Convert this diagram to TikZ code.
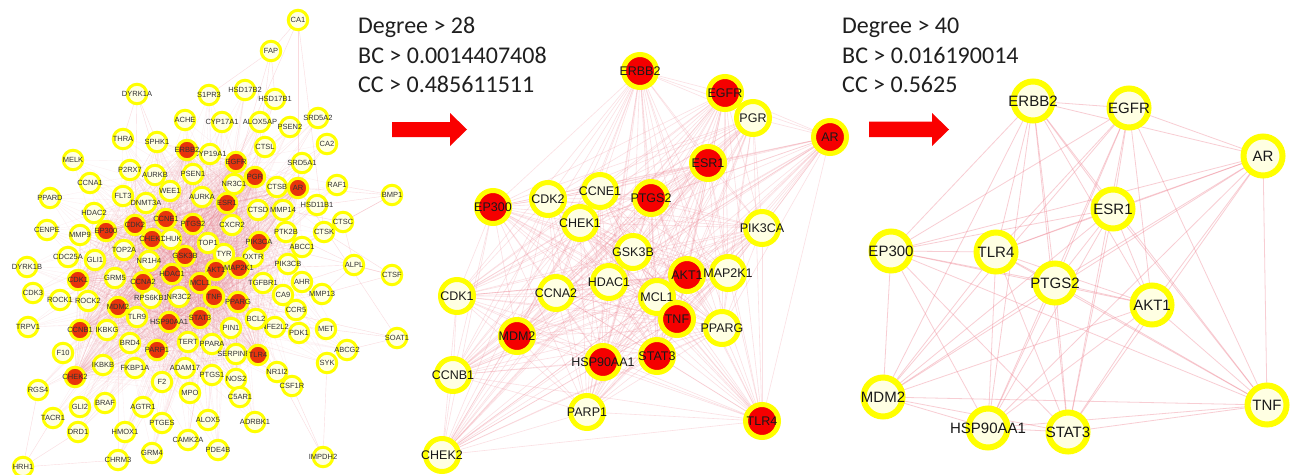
\documentclass[tikz,border=0pt]{standalone}
\usepackage{fontspec}
\setmainfont{Liberation Sans}
\newfontfamily\hdrfont{Carlito}
\usetikzlibrary{backgrounds}
\definecolor{ring}{RGB}{255,255,0}
\definecolor{cream}{RGB}{255,255,226}
\definecolor{lred}{RGB}{232,52,12}
\definecolor{mred}{RGB}{245,0,0}
\definecolor{edgepink}{RGB}{238,125,140}
\definecolor{arrowred}{RGB}{250,0,0}
\def\Lhubs{ERBB2,EGFR,PGR,AR,ESR1,EP300,CDK2,CCNE1,PTGS2,CHEK1,PIK3CA,GSK3B,HDAC1,AKT1,MAP2K1,MCL1,CDK1,CCNA2,TNF,PPARG,MDM2,HSP90AA1,STAT3,CCNB1,PARP1,TLR4,CHEK2}
\def\Linner{SPHK1,CYP19A1,P2RX7,AURKB,PSEN1,NR3C1,CTSB,FLT3,WEE1,AURKA,DNMT3A,CTSD,MMP14,HDAC2,CXCR2,MMP9,PTK2B,CHUK,TOP1,ABCC1,TOP2A,TYR,OXTR,GLI1,NR1H4,PIK3CB,GRM5,TGFBR1,CA9,RPS6KB1,NR3C2,ROCK2,TLR9,BCL2,NFE2L2,PIN1,IKBKG,BRD4,TERT,PPARA,SERPINE1,IKBKB,FKBP1A,ADAM17,PTGS1,NOS2,F2,MPO}
\def\Louter{S1PR3,HSD17B2,HSD17B1,ACHE,CYP17A1,ALOX5AP,PSEN2,SRD5A2,THRA,CA2,CTSL,MELK,SRD5A1,RAF1,CCNA1,PPARD,HSD11B1,CENPE,CTSK,CDC25A,DYRK1B,CDK3,MMP13,ROCK1,TRPV1,MET,ABCG2,F10,SYK,NR1I2,CSF1R,RGS4,C5AR1,GLI2,TACR1,ALOX5,ADRBK1,PTGES,DRD1,HMOX1,CAMK2A,PDE4B,GRM4,CHRM3,BRAF,AGTR1,PDK1,CCR5,AHR}
\def\Lmain{AKT1,TNF,EGFR,ESR1,PTGS2,STAT3,HSP90AA1,MDM2}
\def\Mlist{ERBB2,EGFR,PGR,AR,ESR1,EP300,CDK2,CCNE1,PTGS2,CHEK1,PIK3CA,GSK3B,HDAC1,AKT1,MAP2K1,MCL1,CDK1,CCNA2,TNF,PPARG,MDM2,HSP90AA1,STAT3,CCNB1,PARP1,TLR4,CHEK2}
\def\Rlist{ERBB2,EGFR,AR,ESR1,EP300,TLR4,PTGS2,AKT1,MDM2,HSP90AA1,STAT3,TNF}
\newcommand\Lnode[2]{\node[lnode={#1}] (L-#1) at (#2) {};}
\newcommand\Lhub[2]{\node[lnode={#1},fill=lred] (L-#1) at (#2) {};}
\newcommand\Mnode[2]{\node[mnode={#1}] (M-#1) at (#2) {};}
\newcommand\Mhub[2]{\node[mnode={#1},fill=mred] (M-#1) at (#2) {};}
\newcommand\Rnode[2]{\node[rnode={#1}] (R-#1) at (#2) {};}
\begin{document}
\begin{tikzpicture}[x=1pt,y=-1pt,
  lnode/.style={circle,draw=ring,line width=3pt,fill=cream,minimum size=19.5pt,inner sep=0pt,label={[llab]center:#1}},
  llab/.style={font=\fontsize{7.5}{8}\selectfont,text=black!80,inner sep=0pt},
  mnode/.style={circle,draw=ring,line width=5pt,fill=cream,minimum size=33pt,inner sep=0pt,label={[mlab]center:#1}},
  mlab/.style={font=\fontsize{12.5}{14}\selectfont,text=black!90,inner sep=0pt},
  rnode/.style={circle,draw=ring,line width=6pt,fill=cream,minimum size=39pt,inner sep=0pt,label={[rlab]center:#1}},
  rlab/.style={font=\fontsize{15}{17}\selectfont,text=black!90,inner sep=0pt},
  ledge/.style={draw=edgepink,line width=0.35pt,opacity=0.12},
  lpedge/.style={draw=edgepink,line width=0.4pt,opacity=0.28},
  medge/.style={draw=edgepink,line width=0.6pt,opacity=0.24},
  redge/.style={draw=edgepink,line width=0.8pt,opacity=0.38},
  hdr/.style={font=\hdrfont\fontsize{24}{28}\selectfont,text=black!88,inner sep=0pt,anchor=base west},
  bigarrow/.style={fill=arrowred}]
\useasboundingbox (0,0) rectangle (1297,474);
% ---------------- left network: pale nodes ----------------
\Lnode{CA1}{298,20}
\Lnode{FAP}{271,51}
\Lnode{DYRK1A}{137,94}
\Lnode{S1PR3}{209,95}
\Lnode{HSD17B2}{245,90}
\Lnode{HSD17B1}{275,99}
\Lnode{ACHE}{185,120}
\Lnode{CYP17A1}{222,122}
\Lnode{ALOX5AP}{260,122}
\Lnode{PSEN2}{290,127}
\Lnode{SRD5A2}{318,118}
\Lnode{THRA}{123,139}
\Lnode{SPHK1}{157,142}
\Lnode{CA2}{327,144}
\Lnode{CTSL}{265,147}
\Lnode{CYP19A1}{210,154}
\Lnode{MELK}{73,160}
\Lnode{SRD5A1}{302,163}
\Lnode{P2RX7}{130,170}
\Lnode{AURKB}{155,175}
\Lnode{PSEN1}{193,174}
\Lnode{NR3C1}{234,184}
\Lnode{CTSB}{277,187}
\Lnode{RAF1}{337,185}
\Lnode{CCNA1}{90,183}
\Lnode{BMP1}{392,195}
\Lnode{FLT3}{123,196}
\Lnode{WEE1}{170,191}
\Lnode{AURKA}{202,197}
\Lnode{DNMT3A}{146,203}
\Lnode{PPARD}{50,198}
\Lnode{CTSD}{258,210}
\Lnode{MMP14}{283,210}
\Lnode{HSD11B1}{317,205}
\Lnode{HDAC2}{94,213}
\Lnode{CXCR2}{232,225}
\Lnode{CTSC}{343,222}
\Lnode{CENPE}{47,230}
\Lnode{MMP9}{80,235}
\Lnode{PTK2B}{286,232}
\Lnode{CTSK}{324,232}
\Lnode{CHUK}{171,239}
\Lnode{TOP1}{208,243}
\Lnode{ABCC1}{302,247}
\Lnode{TOP2A}{124,250}
\Lnode{TYR}{224,254}
\Lnode{OXTR}{253,257}
\Lnode{CDC25A}{68,257}
\Lnode{GLI1}{95,260}
\Lnode{NR1H4}{149,261}
\Lnode{DYRK1B}{27,267}
\Lnode{PIK3CB}{288,264}
\Lnode{ALPL}{354,265}
\Lnode{CTSF}{392,275}
\Lnode{GRM5}{115,278}
\Lnode{TGFBR1}{263,283}
\Lnode{AHR}{302,282}
\Lnode{CDK3}{33,293}
\Lnode{CA9}{283,295}
\Lnode{MMP13}{322,294}
\Lnode{RPS6KB1}{151,298}
\Lnode{NR3C2}{179,297}
\Lnode{ROCK1}{60,300}
\Lnode{ROCK2}{88,301}
\Lnode{CCR5}{296,310}
\Lnode{TLR9}{137,317}
\Lnode{NFE2L2}{275,327}
\Lnode{BCL2}{256,319}
\Lnode{PIN1}{231,328}
\Lnode{TRPV1}{28,327}
\Lnode{IKBKG}{107,330}
\Lnode{PDK1}{299,333}
\Lnode{MET}{326,329}
\Lnode{SOAT1}{397,338}
\Lnode{BRD4}{130,343}
\Lnode{TERT}{188,342}
\Lnode{PPARA}{212,344}
\Lnode{ABCG2}{347,350}
\Lnode{F10}{63,353}
\Lnode{SERPINE1}{236,354}
\Lnode{SYK}{327,363}
\Lnode{IKBKB}{103,365}
\Lnode{FKBP1A}{135,368}
\Lnode{ADAM17}{185,368}
\Lnode{NR1I2}{277,372}
\Lnode{PTGS1}{212,375}
\Lnode{NOS2}{236,379}
\Lnode{F2}{162,382}
\Lnode{CSF1R}{292,386}
\Lnode{RGS4}{38,390}
\Lnode{MPO}{190,393}
\Lnode{C5AR1}{240,397}
\Lnode{BRAF}{105,403}
\Lnode{GLI2}{80,407}
\Lnode{AGTR1}{143,407}
\Lnode{TACR1}{53,418}
\Lnode{ALOX5}{208,420}
\Lnode{ADRBK1}{255,422}
\Lnode{PTGES}{162,423}
\Lnode{DRD1}{78,432}
\Lnode{HMOX1}{125,432}
\Lnode{CAMK2A}{188,440}
\Lnode{PDE4B}{218,450}
\Lnode{GRM4}{152,453}
\Lnode{IMPDH2}{323,457}
\Lnode{CHRM3}{118,460}
\Lnode{HRH1}{23,467}
% ---------------- left network: hub nodes ----------------
\Lhub{ERBB2}{187,150}
\Lhub{EGFR}{236,162}
\Lhub{PGR}{255,177}
\Lhub{AR}{298,188}
\Lhub{ESR1}{227,203}
\Lhub{CDK2}{135,225}
\Lhub{CCNE1}{166,219}
\Lhub{PTGS2}{193,224}
\Lhub{EP300}{106,231}
\Lhub{CHEK1}{152,239}
\Lhub{PIK3CA}{259,242}
\Lhub{GSK3B}{185,256}
\Lhub{HDAC1}{172,274}
\Lhub{AKT1}{216,270}
\Lhub{MAP2K1}{239,268}
\Lhub{CDK1}{78,280}
\Lhub{CCNA2}{143,282}
\Lhub{MCL1}{200,283}
\Lhub{TNF}{214,297}
\Lhub{PPARG}{238,302}
\Lhub{MDM2}{118,307}
\Lhub{HSP90AA1}{169,322}
\Lhub{STAT3}{200,318}
\Lhub{CCNB1}{80,330}
\Lhub{PARP1}{157,350}
\Lhub{TLR4}{258,355}
\Lhub{CHEK2}{75,377}
% ---------------- middle network ----------------
\Mhub{ERBB2}{640,71}
\Mhub{EGFR}{725,93}
\Mnode{PGR}{753,118}
\Mhub{AR}{830,137}
\Mhub{ESR1}{708,163}
\Mhub{EP300}{493,207}
\Mnode{CDK2}{548,199}
\Mnode{CCNE1}{600,191}
\Mhub{PTGS2}{651,198}
\Mnode{CHEK1}{580,223}
\Mnode{PIK3CA}{762,228}
\Mnode{GSK3B}{633,252}
\Mnode{HDAC1}{609,282}
\Mhub{AKT1}{687,275}
\Mnode{MAP2K1}{728,273}
\Mnode{MCL1}{657,297}
\Mnode{CDK1}{457,296}
\Mnode{CCNA2}{556,293}
\Mhub{TNF}{677,319}
\Mnode{PPARG}{722,328}
\Mhub{MDM2}{517,336}
\Mhub{HSP90AA1}{603,362}
\Mhub{STAT3}{657,356}
\Mnode{CCNB1}{453,375}
\Mnode{PARP1}{587,412}
\Mhub{TLR4}{762,421}
\Mnode{CHEK2}{442,455}
% ---------------- right network ----------------
\Rnode{ERBB2}{1033,101}
\Rnode{EGFR}{1129,108}
\Rnode{AR}{1263,156}
\Rnode{ESR1}{1113,209}
\Rnode{EP300}{891,251}
\Rnode{TLR4}{996,252}
\Rnode{PTGS2}{1055,283}
\Rnode{AKT1}{1152,305}
\Rnode{MDM2}{883,397}
\Rnode{HSP90AA1}{988,428}
\Rnode{STAT3}{1068,432}
\Rnode{TNF}{1267,405}
% ---------------- headers ----------------
\node[hdr] (h1a) at (358,33) {Degree > 28};
\node[hdr] (h1b) at (358,63) {BC > 0.0014407408};
\node[hdr] (h1c) at (358,92) {CC > 0.485611511};
\node[hdr] (h2a) at (842,33) {Degree > 40};
\node[hdr] (h2b) at (842,63) {BC > 0.016190014};
\node[hdr] (h2c) at (842,92) {CC > 0.5625};
% ---------------- arrows ----------------
\fill[bigarrow] (392,122) -- (450,122) -- (450,113) -- (467,129.5) -- (450,146) -- (450,137) -- (392,137) -- cycle;
\fill[bigarrow] (869,121.5) -- (932,121.5) -- (932,113) -- (949,129.5) -- (932,146) -- (932,137) -- (869,137) -- cycle;
% ---------------- edges ----------------
\begin{pgfonlayer}{background}
\fill[white] (0,0) rectangle (1297,474);
\foreach \a in \Lhubs {
  \foreach \b in \Lhubs {\draw[ledge] (L-\a.center) -- (L-\b.center);}
  \foreach \b in \Linner {\draw[ledge] (L-\a.center) -- (L-\b.center);}
}
\foreach \a in \Lmain {
  \foreach \b in \Louter {\draw[ledge] (L-\a.center) -- (L-\b.center);}
}
\foreach \a/\b in {CA1/FAP,CA1/CTSK,CA1/AR,CA1/EGFR,FAP/HSD17B1,FAP/S1PR3,FAP/PGR,FAP/ESR1,
  BMP1/RAF1,BMP1/AR,BMP1/CTSK,BMP1/MMP14,BMP1/CTSC,CTSF/CTSK,CTSF/ALPL,CTSF/MMP13,CTSF/PIK3CA,
  SOAT1/ABCG2,SOAT1/MET,SOAT1/PPARG,SOAT1/AR,IMPDH2/CSF1R,IMPDH2/NR1I2,IMPDH2/SYK,
  HRH1/TACR1,HRH1/RGS4,HRH1/CHRM3,HRH1/DRD1,ALPL/CTSC,ALPL/AHR,ALPL/MMP13,ALPL/PTK2B,ALPL/AKT1,
  CTSC/CTSK,CTSC/MMP14,CTSC/TNF,DYRK1A/THRA,DYRK1A/SPHK1,DYRK1A/GSK3B,DYRK1A/CDK2}
  {\draw[lpedge] (L-\a.center) -- (L-\b.center);}
\foreach \a [count=\i] in \Mlist {
  \foreach \b [count=\j] in \Mlist {
    \ifnum\j>\i \draw[medge] (M-\a.center) -- (M-\b.center); \fi
  }
}
\foreach \a [count=\i] in \Rlist {
  \foreach \b [count=\j] in \Rlist {
    \ifnum\j>\i \draw[redge] (R-\a.center) -- (R-\b.center); \fi
  }
}
\end{pgfonlayer}
\end{tikzpicture}
\end{document}
